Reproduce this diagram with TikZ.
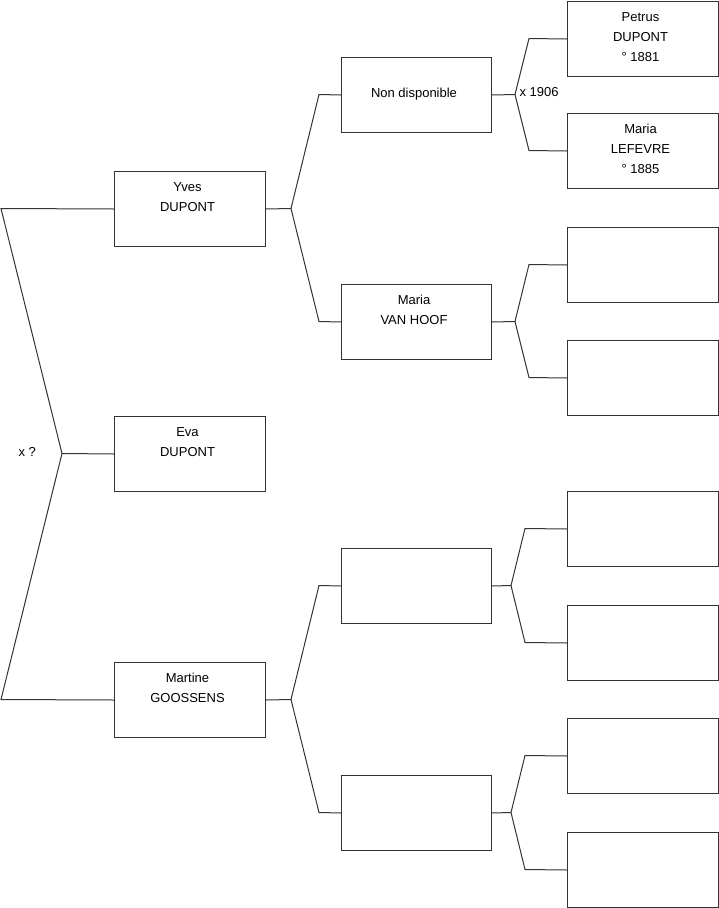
\documentclass[tikz,border=0pt]{standalone}
\usepackage{fontspec}
\setmainfont{Liberation Sans}
\newcommand\ptxt[1]{\hspace*{-5pt}\parbox[c][75pt][t]{140pt}{\centering\vspace*{5.5pt}\strut #1}}
\begin{document}
\begin{tikzpicture}[x=1pt,y=-1pt,line width=1pt,
  box/.style={draw=black!80,rectangle,inner sep=0pt,minimum width=#1,minimum height=75pt,anchor=north west,font=\fontsize{13}{20}\selectfont},
  box/.default=151pt,
  link/.style={draw=black!80,line join=miter},
  lbl/.style={inner sep=0pt,anchor=west,font=\fontsize{13}{20}\selectfont}]
\useasboundingbox (0,0) rectangle (719,908);
% generation 1
\node[box] (yves) at (114,171) {\ptxt{Yves\\DUPONT}};
\node[box] (eva) at (114,416) {\ptxt{Eva\\DUPONT}};
\node[box] (martine) at (114,662) {\ptxt{Martine\\GOOSSENS}};
% generation 2
\node[box=150pt] (nd) at (341,57) {\ptxt{\\Non disponible}};
\node[box=150pt] (vh) at (341,284) {\ptxt{Maria\\VAN HOOF}};
\node[box=150pt] (g2c) at (341,548) {};
\node[box=150pt] (g2d) at (341,775) {};
% generation 3
\node[box] (p) at (567,1) {\ptxt{Petrus\\DUPONT\\° 1881}};
\node[box] (ml) at (567,113) {\ptxt{Maria\\LEFEVRE\\° 1885}};
\node[box] (g3c) at (567,227) {};
\node[box] (g3d) at (567,340) {};
\node[box] (g3e) at (567,491) {};
\node[box] (g3f) at (567,605) {};
\node[box] (g3g) at (567,718) {};
\node[box] (g3h) at (567,832) {};
% junctions
\coordinate (j0) at (62,453.5);
\coordinate (a0) at (1,208.5);
\coordinate (b0) at (1,699.5);
\coordinate (j1) at (291,208.5);
\coordinate (a1) at (319,94.5);
\coordinate (b1) at (319,321.5);
\coordinate (j2) at (291,699.5);
\coordinate (a2) at (319,585.5);
\coordinate (b2) at (319,812.5);
\coordinate (j3) at (515,94.5);
\coordinate (a3) at (529,38.5);
\coordinate (b3) at (529,150.5);
\coordinate (j4) at (515,321.5);
\coordinate (a4) at (529,264.5);
\coordinate (b4) at (529,377.5);
\coordinate (j5) at (511,585.5);
\coordinate (a5) at (525,528.5);
\coordinate (b5) at (525,642.5);
\coordinate (j6) at (511,812.5);
\coordinate (a6) at (525,755.5);
\coordinate (b6) at (525,869.5);
% connectors
\draw[link] (yves.west) -- (a0) -- (j0) -- (b0) -- (martine.west);
\draw[link] (j0) -- (eva.west);
\draw[link] (yves.east) -- (j1);
\draw[link] (nd.west) -- (a1) -- (j1) -- (b1) -- (vh.west);
\draw[link] (martine.east) -- (j2);
\draw[link] (g2c.west) -- (a2) -- (j2) -- (b2) -- (g2d.west);
\draw[link] (nd.east) -- (j3);
\draw[link] (p.west) -- (a3) -- (j3) -- (b3) -- (ml.west);
\draw[link] (vh.east) -- (j4);
\draw[link] (g3c.west) -- (a4) -- (j4) -- (b4) -- (g3d.west);
\draw[link] (g2c.east) -- (j5);
\draw[link] (g3e.west) -- (a5) -- (j5) -- (b5) -- (g3f.west);
\draw[link] (g2d.east) -- (j6);
\draw[link] (g3g.west) -- (a6) -- (j6) -- (b6) -- (g3h.west);
% labels
\node[lbl] (xq) at (18,451.5) {x ?};
\node[lbl] (x1906) at (519,92.5) {x 1906};
\end{tikzpicture}
\end{document}
